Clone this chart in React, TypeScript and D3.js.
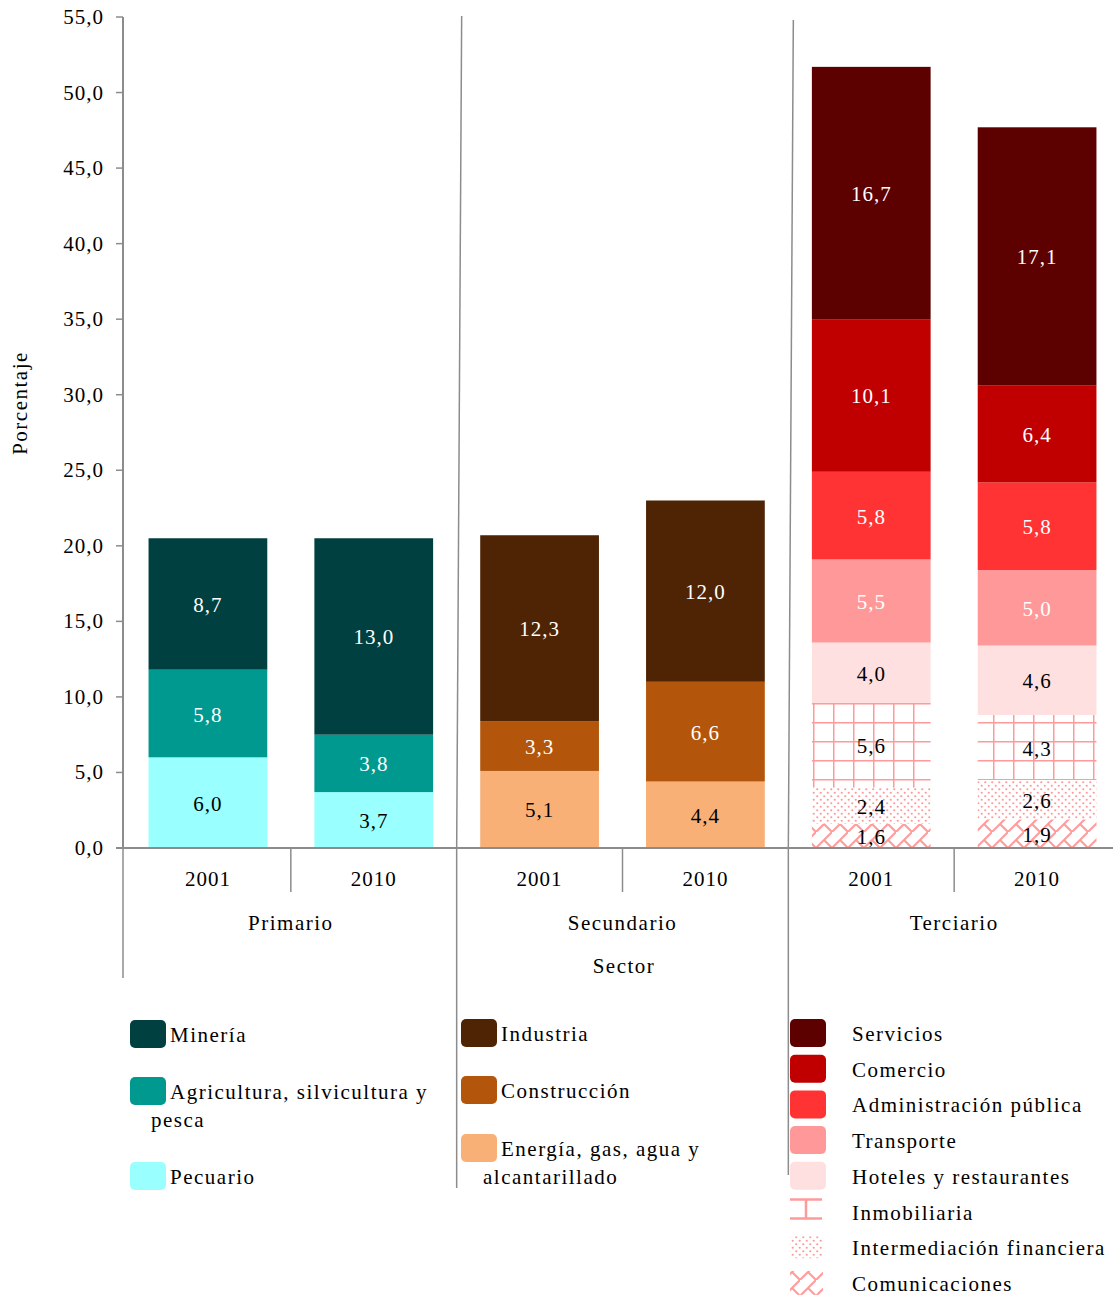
import * as d3 from 'd3';

const years = ['2001', '2010'];
const sectors = ['Primario', 'Secundario', 'Terciario'];

// series are listed bottom to top of each stack
const primarioSeries = ['Pecuario', 'Agricultura, silvicultura y pesca', 'Minería'];
const primario2001 = [6.0, 5.8, 8.7];
const primario2010 = [3.7, 3.8, 13.0];

const secundarioSeries = ['Energía, gas, agua y alcantarillado', 'Construcción', 'Industria'];
const secundario2001 = [5.1, 3.3, 12.3];
const secundario2010 = [4.4, 6.6, 12.0];

const terciarioSeries = [
  'Comunicaciones',
  'Intermediación financiera',
  'Inmobiliaria',
  'Hoteles y restaurantes',
  'Transporte',
  'Administración pública',
  'Comercio',
  'Servicios',
];
const terciario2001 = [1.6, 2.4, 5.6, 4.0, 5.5, 5.8, 10.1, 16.7];
const terciario2010 = [1.9, 2.6, 4.3, 4.6, 5.0, 5.8, 6.4, 17.1];

const fills: Record<string, string> = {
  'Minería': '#004040',
  'Agricultura, silvicultura y pesca': '#009990',
  'Pecuario': '#99ffff',
  'Industria': '#4f2404',
  'Construcción': '#b3560b',
  'Energía, gas, agua y alcantarillado': '#f8b076',
  'Servicios': '#5c0000',
  'Comercio': '#c00000',
  'Administración pública': '#ff3333',
  'Transporte': '#ff9999',
  'Hoteles y restaurantes': '#ffe0e0',
  'Inmobiliaria': 'url(#pat-grid)',
  'Intermediación financiera': 'url(#pat-dots)',
  'Comunicaciones': 'url(#pat-brick)',
};
const darkText = new Set([
  'Pecuario',
  'Energía, gas, agua y alcantarillado',
  'Hoteles y restaurantes',
  'Inmobiliaria',
  'Intermediación financiera',
  'Comunicaciones',
]);

const groups = [
  { sector: 'Primario', series: primarioSeries, values: [primario2001, primario2010] },
  { sector: 'Secundario', series: secundarioSeries, values: [secundario2001, secundario2010] },
  { sector: 'Terciario', series: terciarioSeries, values: [terciario2001, terciario2010] },
];

const W = 1113;
const H = 1298;
const FONT = '"Liberation Serif", "Times New Roman", serif';
const AXIS = '#8c8c8c';
const PINK = '#ff9a9a';

const locale = d3.formatLocale({ decimal: ',', thousands: '.', grouping: [3], currency: ['', ''] });
const fmt = locale.format('.1f');

export default function App() {
  const y = d3.scaleLinear().domain([0, 55]).range([848, 17]);
  const slots = groups.flatMap(g => years.map(yr => `${g.sector}-${yr}`));
  const x = d3.scaleBand<string>().domain(slots).range([125, 1120]).paddingInner(0.284).paddingOuter(0.142);
  const step = x.step();
  const bw = x.bandwidth();
  const groupEdge = (i: number) => (i === 0 ? 123 : 125 + step * 2 * i);

  const bars = groups.flatMap(g =>
    years.map((yr, yi) => {
      const row: Record<string, number> = {};
      g.series.forEach((s, si) => (row[s] = g.values[yi][si]));
      const stacked = d3.stack<Record<string, number>>().keys(g.series)([row]);
      return stacked.map(layer => ({
        key: `${g.sector}-${yr}`,
        name: layer.key,
        y0: layer[0][0],
        y1: layer[0][1],
        value: row[layer.key],
      }));
    })
  ).flat();

  const yTicks = y.ticks(11);

  const textStyle = { fontFamily: FONT, fontSize: 21, letterSpacing: 1.5 };
  const numStyle = { fontFamily: FONT, fontSize: 21, letterSpacing: 1 };

  const legendLeft = [
    { name: 'Minería', lines: ['Minería'], cy: 1034 },
    { name: 'Agricultura, silvicultura y pesca', lines: ['Agricultura, silvicultura y', 'pesca'], cy: 1091 },
    { name: 'Pecuario', lines: ['Pecuario'], cy: 1176 },
  ];
  const legendMid = [
    { name: 'Industria', lines: ['Industria'], cy: 1033 },
    { name: 'Construcción', lines: ['Construcción'], cy: 1090 },
    { name: 'Energía, gas, agua y alcantarillado', lines: ['Energía, gas, agua y', 'alcantarillado'], cy: 1148 },
  ];
  const legendRight = [...terciarioSeries].reverse();

  return (
    <div style={{ position: 'absolute', left: 0, top: 0 }}>
      <svg width={W} height={H} style={{ display: 'block', background: '#fff' }}>
        <defs>
          <pattern id="pat-grid" patternUnits="userSpaceOnUse" width={20} height={19} x={13} y={0}>
            <rect width={20} height={19} fill="#fff" />
            <line x1={0} y1={0} x2={0} y2={19} stroke={PINK} strokeWidth={3} />
            <line x1={0} y1={0} x2={20} y2={0} stroke={PINK} strokeWidth={3} />
          </pattern>
          <pattern id="pat-dots" patternUnits="userSpaceOnUse" width={7} height={7}>
            <rect width={7} height={7} fill="#fff" />
            <circle cx={1.75} cy={1.75} r={1.1} fill={PINK} />
            <circle cx={5.25} cy={5.25} r={1.1} fill={PINK} />
          </pattern>
          <pattern id="pat-brick" patternUnits="userSpaceOnUse" width={16} height={16}>
            <rect width={16} height={16} fill="#fff" />
            <line x1={0} y1={16} x2={16} y2={0} stroke={PINK} strokeWidth={2} />
            <line x1={8} y1={8} x2={16} y2={16} stroke={PINK} strokeWidth={2} />
          </pattern>
        </defs>

        {/* bars */}
        {bars.map(b => (
          <rect
            key={`${b.key}-${b.name}`}
            x={x(b.key)}
            y={y(b.y1)}
            width={bw}
            height={y(b.y0) - y(b.y1)}
            fill={fills[b.name]}
          />
        ))}
        {bars.map(b => (
          <text
            key={`l-${b.key}-${b.name}`}
            x={(x(b.key) as number) + bw / 2}
            y={(y(b.y0) + y(b.y1)) / 2 + 8}
            textAnchor="middle"
            fill={darkText.has(b.name) ? '#000' : '#fff'}
            style={numStyle}
          >
            {fmt(b.value)}
          </text>
        ))}

        {/* y axis */}
        <line x1={123} y1={17} x2={123} y2={848} stroke={AXIS} strokeWidth={2} />
        {yTicks.map(t => (
          <g key={t}>
            <line x1={116} x2={123} y1={y(t)} y2={y(t)} stroke={AXIS} strokeWidth={1.5} />
            <text x={104} y={y(t) + 7} textAnchor="end" style={numStyle}>
              {fmt(t)}
            </text>
          </g>
        ))}
        <text transform={`translate(27,403) rotate(-90)`} textAnchor="middle" style={textStyle}>
          Porcentaje
        </text>

        {/* separators inside plot */}
        {[1, 2].map(i => (
          <line
            key={`sep-${i}`}
            x1={groupEdge(i) + 5}
            y1={i === 1 ? 16 : 20}
            x2={groupEdge(i)}
            y2={848}
            stroke={AXIS}
            strokeWidth={1.5}
          />
        ))}

        {/* x axis */}
        <line x1={116} y1={848} x2={W} y2={848} stroke={AXIS} strokeWidth={2} />
        {groups.map((g, gi) => (
          <line
            key={`yr-sep-${gi}`}
            x1={125 + step * (2 * gi + 1)}
            x2={125 + step * (2 * gi + 1)}
            y1={848}
            y2={892}
            stroke={AXIS}
            strokeWidth={1.5}
          />
        ))}
        <line x1={groupEdge(0)} x2={groupEdge(0)} y1={848} y2={978} stroke={AXIS} strokeWidth={1.5} />
        <line x1={groupEdge(1)} x2={groupEdge(1)} y1={848} y2={1188} stroke={AXIS} strokeWidth={1.5} />
        <line x1={groupEdge(2)} x2={groupEdge(2)} y1={848} y2={1175} stroke={AXIS} strokeWidth={1.5} />

        {slots.map(s => (
          <text
            key={`yl-${s}`}
            x={(x(s) as number) + bw / 2}
            y={886}
            textAnchor="middle"
            style={numStyle}
          >
            {s.split('-')[1]}
          </text>
        ))}
        {sectors.map((s, i) => (
          <text key={`sl-${s}`} x={125 + step * (2 * i + 1)} y={930} textAnchor="middle" style={textStyle}>
            {s}
          </text>
        ))}
        <text x={624} y={973} textAnchor="middle" style={textStyle}>
          Sector
        </text>

        {/* legend: primario */}
        {legendLeft.map(item => (
          <g key={`lg-${item.name}`}>
            <rect x={130} y={item.cy - 14} width={36} height={28} rx={5} fill={fills[item.name]} />
            <text x={170} y={item.cy + 8} style={textStyle}>
              {item.lines[0]}
            </text>
            {item.lines[1] && (
              <text x={151} y={item.cy + 36} style={textStyle}>
                {item.lines[1]}
              </text>
            )}
          </g>
        ))}

        {/* legend: secundario */}
        {legendMid.map(item => (
          <g key={`lg-${item.name}`}>
            <rect x={461} y={item.cy - 14} width={36} height={28} rx={5} fill={fills[item.name]} />
            <text x={501} y={item.cy + 8} style={textStyle}>
              {item.lines[0]}
            </text>
            {item.lines[1] && (
              <text x={483} y={item.cy + 36} style={textStyle}>
                {item.lines[1]}
              </text>
            )}
          </g>
        ))}

        {/* legend: terciario */}
        {legendRight.map((name, i) => {
          const cy = 1033 + i * 35.7;
          let swatch;
          if (name === 'Inmobiliaria') {
            swatch = (
              <g stroke={PINK} strokeWidth={2.5}>
                <line x1={790} x2={822} y1={cy - 12} y2={cy - 12} />
                <line x1={806} x2={806} y1={cy - 12} y2={cy + 7} />
                <line x1={790} x2={822} y1={cy + 7} y2={cy + 7} />
              </g>
            );
          } else if (name === 'Intermediación financiera') {
            swatch = <rect x={790} y={cy - 11} width={33} height={22} fill={fills[name]} />;
          } else if (name === 'Comunicaciones') {
            swatch = <rect x={790} y={cy - 12} width={33} height={24} fill={fills[name]} />;
          } else {
            swatch = <rect x={790} y={cy - 14} width={36} height={28} rx={5} fill={fills[name]} />;
          }
          return (
            <g key={`lg-${name}`}>
              {swatch}
              <text x={852} y={cy + 8} style={textStyle}>
                {name}
              </text>
            </g>
          );
        })}
      </svg>
    </div>
  );
}
